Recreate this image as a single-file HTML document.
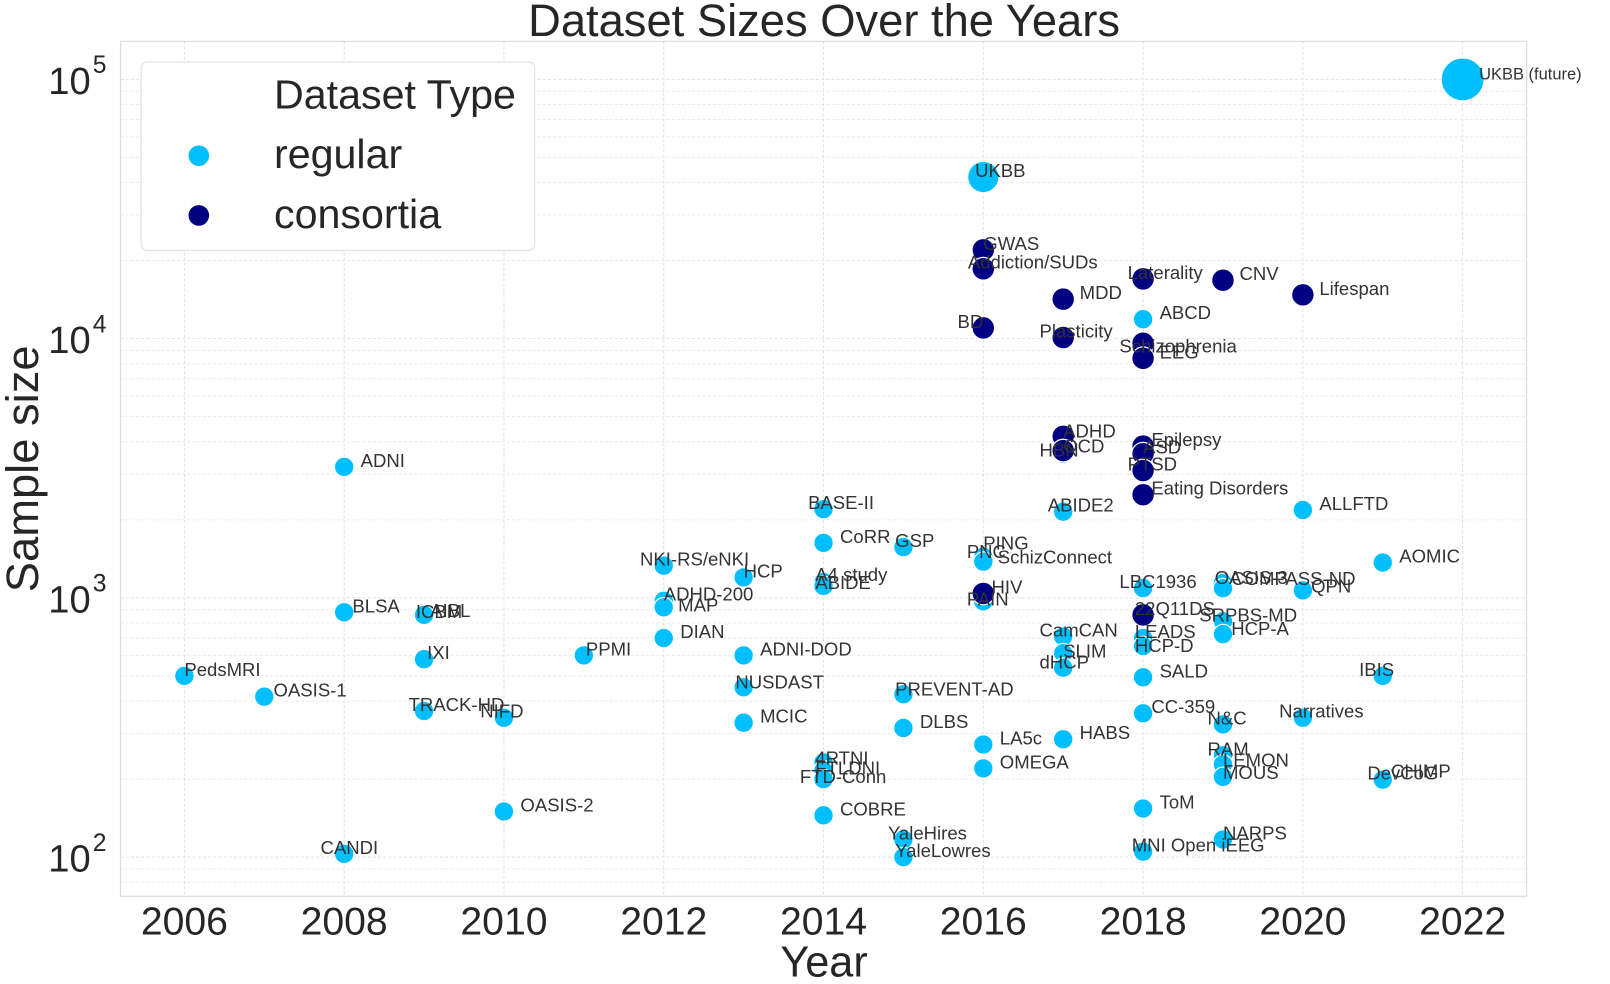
<!DOCTYPE html>
<html><head><meta charset="utf-8"><title>Dataset Sizes Over the Years</title>
<style>
html,body{margin:0;padding:0;background:#fff;}
svg{display:block;font-family:"Liberation Sans",Arial,sans-serif;}
</style></head>
<body>
<svg id="chart" width="1610" height="984" viewBox="0 0 1563 955" xmlns="http://www.w3.org/2000/svg">
<rect x="0" y="0" width="1563" height="955" fill="#fff"/>
<g id="grid"></g>
<rect x="117" y="40" width="1365" height="830" fill="none" stroke="#dcdcdc" stroke-width="1.2"/>
<g id="points"></g>
<g id="labels"></g>
<g id="axes"></g>
<text x="800" y="35" font-size="44" text-anchor="middle" fill="#262626">Dataset Sizes Over the Years</text>
<text x="800" y="948" font-size="42" text-anchor="middle" fill="#262626">Year</text>
<text x="0" y="0" font-size="44" text-anchor="middle" fill="#262626" transform="translate(37,455) rotate(-90)">Sample size</text>
<g>
<rect x="137" y="60" width="382" height="183" rx="6" fill="#fff" fill-opacity="0.85" stroke="#e3e3e3" stroke-width="1.2"/>
<text x="266" y="105" font-size="40" fill="#262626">Dataset Type</text>
<g>
<circle cx="193" cy="151" r="10" fill="#00bfff"/>
<text x="266" y="163" font-size="40" fill="#262626">regular</text>
</g>
<g>
<circle cx="193" cy="209" r="10" fill="#000080"/>
<text x="266" y="221" font-size="40" fill="#262626">consortia</text>
</g>
</g>
</svg>
<script>
const names = ["PedsMRI","OASIS-1","ADNI","BLSA","CANDI","IXI","ICBM","AIBL","TRACK-HD","NIFD","OASIS-2","PPMI","NKI-RS/eNKI","ADHD-200","MAP","DIAN","HCP","ADNI-DOD","NUSDAST","MCIC","BASE-II","CoRR","A4 study","ABIDE","4RTNI","FTLDNI","FTD-Conn","COBRE","GSP","PREVENT-AD","DLBS","YaleHires","YaleLowres","UKBB","PNC","PING","SchizConnect","PAIN","LA5c","OMEGA","HBN","ABIDE2","CamCAN","SLIM","dHCP","HABS","ABCD","LBC1936","LEADS","HCP-D","SALD","CC-359","ToM","MNI Open iEEG","OASIS-3","COMPASS-ND","SRPBS-MD","HCP-A","N&C","RAM","LEMON","MOUS","NARPS","ALLFTD","QPN","Narratives","AOMIC","IBIS","DevCoG","CHIMP","UKBB (future)",
"GWAS","Addiction/SUDs","BD","HIV","ADHD","OCD","MDD","Plasticity","Laterality","Schizophrenia","EEG","Epilepsy","ASD","PTSD","Eating Disorders","22Q11DS","CNV","Lifespan"];
const years = [2006,2007,2008,2008,2008,2009,2009,2009,2009,2010,2010,2011,2012,2012,2012,2012,2013,2013,2013,2013,2014,2014,2014,2014,2014,2014,2014,2014,2015,2015,2015,2015,2015,2016,2016,2016,2016,2016,2016,2016,2017,2017,2017,2017,2017,2017,2018,2018,2018,2018,2018,2018,2018,2018,2019,2019,2019,2019,2019,2019,2019,2019,2019,2020,2020,2020,2021,2021,2021,2021,2022,
2016,2016,2016,2016,2017,2017,2017,2017,2018,2018,2018,2018,2018,2018,2018,2018,2019,2020];
const sampleSizes = [500,416,3200,880,103,580,853,860,366,345,150,600,1331,975,920,700,1200,600,452,330,2200,1630,1150,1112,232,216,200,145,1570,425,315,117,100,42000,1400,1440,1380,970,272,220,3600,2150,710,612,538,285,11880,1091,700,652,494,359,154,105,1140,1090,812,725,325,247,228,204,117,2183,1069,345,1369,500,199,199,100000,
22000,18600,11000,1040,4200,3700,14200,10100,17000,9600,8400,3850,3600,3100,2500,860,16800,14760];
const types = names.map((n,i)=> i>=71 ? "consortia" : "regular");
const markerScale = names.map(n => n==="UKBB" ? 1.6 : (n==="UKBB (future)" ? 2.2 : 1));

const labelOff = {"PedsMRI":[0,-6],"OASIS-1":[9,-6],"CANDI":[-23,-6],"TRACK-HD":[-15,-6],"NIFD":[-23,-6],"NKI-RS/eNKI":[-23,-6],"BLSA":[8,-6],"IXI":[3,-6],"ICBM":[-8,-4],"AIBL":[6,-4],"ADHD-200":[0,-6],"MAP":[14,-2],"PPMI":[2,-6],"NUSDAST":[-8,-5],"HCP":[0,-6],"BASE-II":[-15,-6],"4RTNI":[-8,-4],"FTLDNI":[-8,-2],"FTD-Conn":[-23,-2],"GSP":[-8,-6],"PREVENT-AD":[-8,-5],"YaleHires":[-15,-6],"YaleLowres":[-8,-6],"UKBB":[-8,-6],"PNC":[-16,-8],"PING":[0,-13],"SchizConnect":[14,-4],"PAIN":[-16,-2],"HIV":[8,-6],"HBN":[-23,-3],"OCD":[0,-4],"ADHD":[0,-5],"ABIDE2":[-15,-6],"CamCAN":[-23,-6],"SLIM":[0,-2],"dHCP":[-23,-5],"Laterality":[-15,-6],"Schizophrenia":[-23,3],"LBC1936":[-23,-6],"22Q11DS":[-8,-6],"LEADS":[-8,-6],"HCP-D":[-8,0],"ASD":[0,-6],"PTSD":[-15,-6],"Epilepsy":[8,-6],"Eating Disorders":[8,-6],"OASIS-3":[-8,-5],"COMPASS-ND":[8,-9],"SRPBS-MD":[-23,-6],"HCP-A":[8,-5],"N&C":[-15,-6],"RAM":[-15,-6],"LEMON":[0,-4],"MOUS":[0,-4],"NARPS":[0,-6],"MNI Open iEEG":[-11,-6],"IBIS":[-23,-6],"DevCoG":[-15,-6],"CHIMP":[8,-8],"UKBB (future)":[16,-6],"BD":[-25,-6],"Plasticity":[-23,-6],"Addiction/SUDs":[-15,-6],"GWAS":[0,-6],"A4 study":[-8,-7],"ABIDE":[-8,-3],"CC-359":[8,-6],"QPN":[8,-4],"Narratives":[-23,-6]};

const X0=179, XPY=77.56, Y2=832, YPD=251.7;
function xS(yr){return X0+(yr-2006)*XPY;}
function yS(v){return Y2-(Math.log10(v)-2)*YPD;}
const NS="http://www.w3.org/2000/svg";
function mk(tag,attrs,parent){const e=document.createElementNS(NS,tag);for(const k in attrs)e.setAttribute(k,attrs[k]);parent.appendChild(e);return e;}

const grid=document.getElementById('grid');
const axes=document.getElementById('axes');
const xTicks=[2006,2008,2010,2012,2014,2016,2018,2020,2022];
const yTickExp=[2,3,4,5];
for(let d=1;d<=5;d++){for(let m=1;m<=9;m++){const v=m*Math.pow(10,d);const y=yS(v);if(y<40||y>870)continue;
const l=mk('line',{x1:117,x2:1482,y1:y,y2:y,stroke:m===1?'#e2e2e2':'#ececec','stroke-width':1,'stroke-dasharray':'3,2'},grid);

}}
xTicks.forEach(t=>{const x=xS(t);
const l=mk('line',{x1:x,x2:x,y1:40,y2:870,stroke:'#e2e2e2','stroke-width':1,'stroke-dasharray':'3,2'},grid);


const tx=mk('text',{x:x,y:907,'font-size':38,'text-anchor':'middle',fill:'#262626'},axes);
tx.textContent=t;

});
yTickExp.forEach(e=>{const y=yS(Math.pow(10,e));
const tx=mk('text',{x:88,y:y+14,'font-size':37,'text-anchor':'end',fill:'#262626'},axes);
tx.textContent='10';


const sp=mk('text',{x:90,y:y-6,'font-size':24,'text-anchor':'start',fill:'#262626'},axes);
sp.textContent=String(e);

});

const pts=document.getElementById('points');
const lbs=document.getElementById('labels');
const order=names.map((n,i)=>i).sort((a,b)=>(types[a]==="consortia")-(types[b]==="consortia"));
order.forEach(i=>{const x=xS(years[i]),y=yS(sampleSizes[i]);
const r=(types[i]==="consortia"?11:9.5)*markerScale[i];
const c=mk('circle',{cx:x,cy:y,r:r,fill:types[i]==="consortia"?'#000080':'#00bfff',stroke:'#fff','stroke-width':1.2},pts);

});
names.forEach((n,i)=>{const x=xS(years[i]),y=yS(sampleSizes[i]);
const o=labelOff[n]||[16,-6];
const t=mk('text',{x:x+o[0],y:y+o[1]+6,'font-size':n==="UKBB (future)"?16:18,fill:'#333'},lbs);
t.textContent=n;

});
</script>
</body></html>
